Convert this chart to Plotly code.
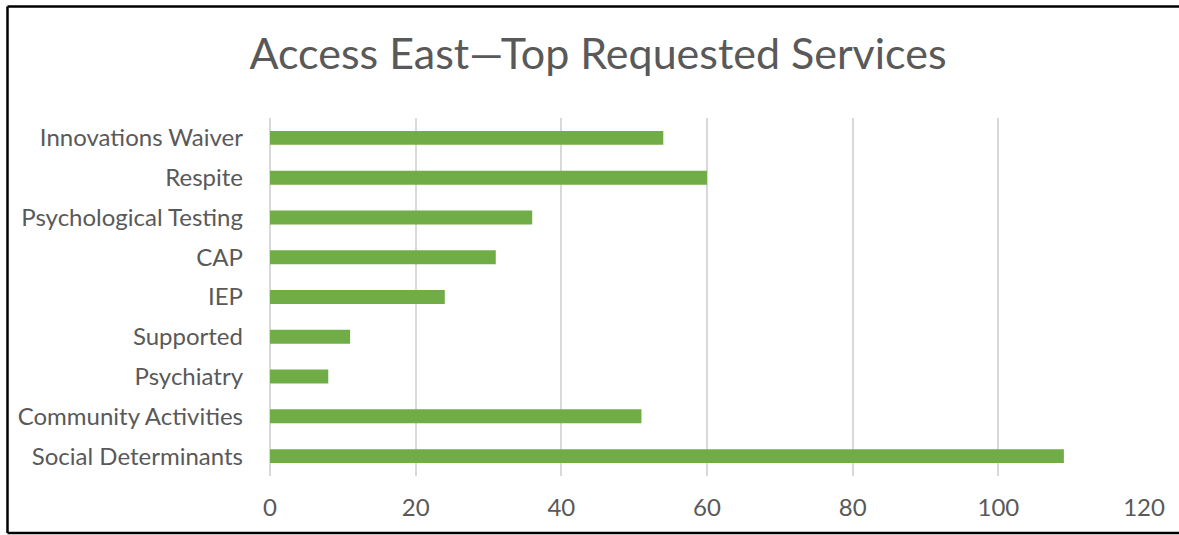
import plotly.graph_objects as go

categories = ["Innovations Waiver", "Respite", "Psychological Testing", "CAP", "IEP",
              "Supported", "Psychiatry", "Community Activities", "Social Determinants"]
values = [54, 60, 36, 31, 24, 11, 8, 51, 109]
x_ticks = [0, 20, 40, 60, 80, 100, 120]
title_text = "Access East\u2014Top Requested Services"

W, H = 1179, 535
L, T = 270, 118
R = W - 1144
B = H - 476

pw, ph = W - L - R, H - T - B

def px_x(p):  # figure pixel -> paper x
    return (p - L) / pw

def px_y(p):  # figure pixel -> paper y
    return (H - B - p) / ph

fig = go.Figure(go.Bar(
    y=categories, x=values, orientation="h",
    marker=dict(color="#70AD47", line=dict(width=0)),
    hoverinfo="x+y",
))

border = dict(color="black", width=2.5)
xl, xr, yt, yb = px_x(7.5), px_x(1400), px_y(6.5), px_y(533)

fig.update_layout(
    width=W, height=H,
    margin=dict(l=L, r=R, t=T, b=B),
    paper_bgcolor="white", plot_bgcolor="white",
    bargap=0.65,
    showlegend=False,
    title=dict(text=title_text, x=598 / W, xanchor="center", y=1 - 54 / H, yanchor="middle",
               font=dict(family="Lato", size=43, color="#595959")),
    font=dict(family="Lato", color="#595959"),
    xaxis=dict(range=[0, 120], tickvals=x_ticks, showgrid=True, gridcolor="#D9D9D9", gridwidth=1.5,
               zeroline=True, zerolinecolor="#D9D9D9", zerolinewidth=1.5, showline=False,
               ticks="", tickfont=dict(family="Lato", size=24, color="#595959"), ticklabelstandoff=15),
    yaxis=dict(autorange="reversed", showgrid=False, showline=False, ticks="",
               tickfont=dict(family="Lato", size=24, color="#595959"), ticklabelstandoff=26),
    shapes=[
        dict(type="line", xref="paper", yref="paper", x0=xl, x1=xl, y0=yb, y1=yt, line=border, layer="above"),
        dict(type="line", xref="paper", yref="paper", x0=xl, x1=xr, y0=yt, y1=yt, line=border, layer="above"),
        dict(type="line", xref="paper", yref="paper", x0=xl, x1=xr, y0=yb, y1=yb, line=border, layer="above"),
    ],
)

fig.write_html(
    "out.html",
    config={"displayModeBar": False},
    post_script="document.body.style.margin='0';document.body.style.overflow='hidden';",
)
